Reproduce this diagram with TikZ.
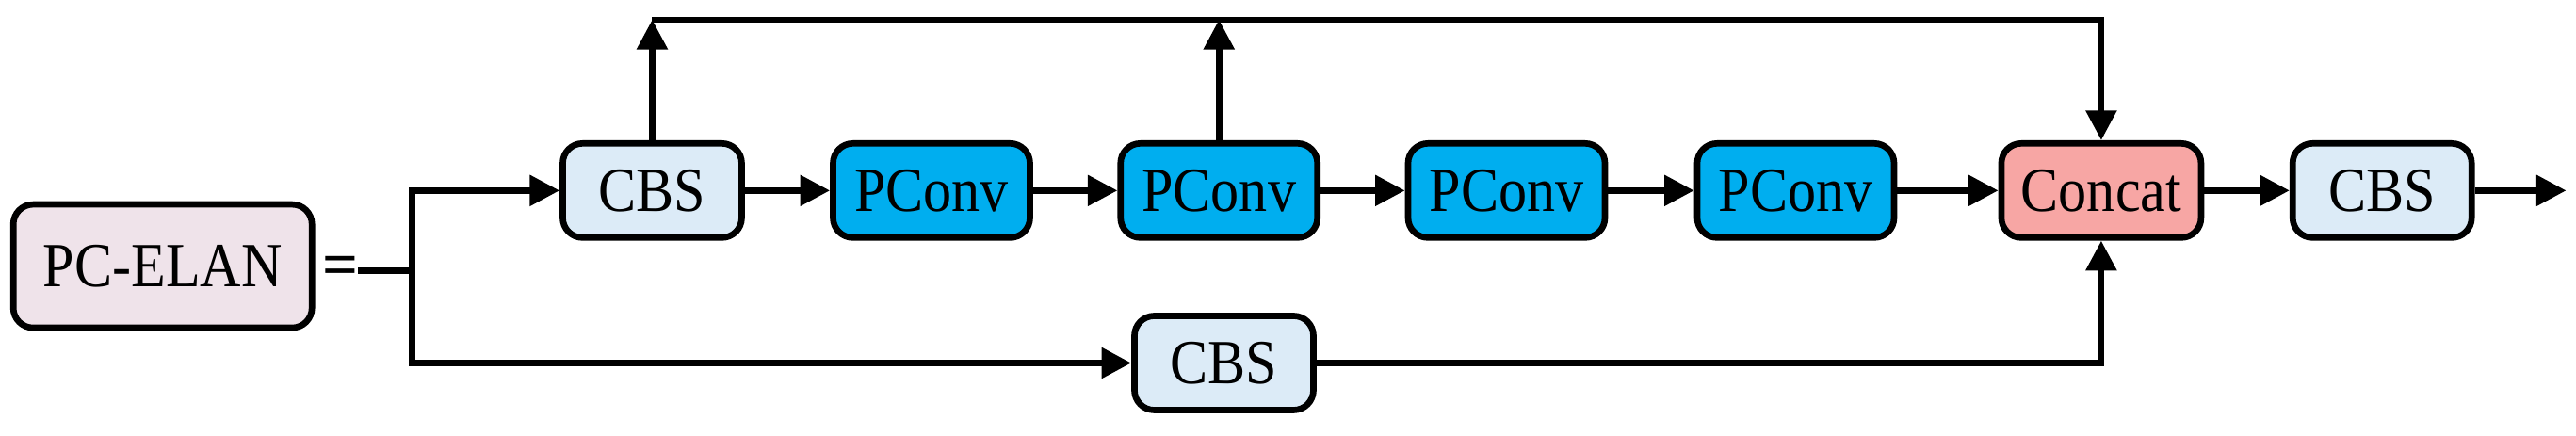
\documentclass[tikz,border=0pt]{standalone}
\usepackage{fontspec}
\setmainfont{Liberation Serif}
\usetikzlibrary{arrows.meta}
\begin{document}
\begin{tikzpicture}[x=0.01744cm,y=-0.01744cm,
  blk/.style={draw=black,line width=1.9pt,rounded corners=6pt,minimum height=1.0cm,inner sep=0pt,font=\fontsize{19}{20}\selectfont},
  cbs/.style={blk,fill=cbsc,minimum width=1.9cm},
  pc/.style={blk,fill=pcc,minimum width=2.09cm},
  ln/.style={line width=1.9pt},
  ar/.style={ln,-{Triangle[length=9pt,width=9pt]}}]
\definecolor{cbsc}{HTML}{DCEBF7}
\definecolor{pcc}{HTML}{00AEEF}
\definecolor{catc}{HTML}{F7A6A4}
\definecolor{elc}{HTML}{EFE3EA}
\useasboundingbox (0,0) rectangle (1568,265);
\node[blk,fill=elc,minimum width=3.17cm,minimum height=1.31cm] (el) at (99,162) {\scalebox{0.9}[1]{PC-ELAN}};
\node[font=\fontsize{19}{20}\selectfont\bfseries] (eq) at (207,165) {=};
\coordinate (d0) at (218,165);
\coordinate (sp) at (251,165);
\node[cbs] (c1) at (397,116) {\scalebox{0.9}[1]{CBS}};
\node[pc] (p1) at (567,116) {\scalebox{0.9}[1]{PConv}};
\node[pc] (p2) at (742,116) {\scalebox{0.9}[1]{PConv}};
\node[pc] (p3) at (917,116) {\scalebox{0.9}[1]{PConv}};
\node[pc] (p4) at (1093,116) {\scalebox{0.9}[1]{PConv}};
\node[blk,fill=catc,minimum width=2.12cm] (cat) at (1279,116) {\scalebox{0.9}[1]{Concat}};
\node[cbs] (c3) at (1450,116) {\scalebox{0.9}[1]{CBS}};
\node[cbs] (c2) at (745,221) {\scalebox{0.9}[1]{CBS}};
\coordinate (out) at (1562,116);
\coordinate (t1) at (397,12);
\coordinate (t2) at (742,12);
\coordinate (t3) at (1279,12);
\draw[ln] (d0) -- (sp);
\draw[ar] (sp) |- (c1.west);
\draw[ar] (sp) |- (c2.west);
\draw[ar] (c1) -- (p1);
\draw[ar] (p1) -- (p2);
\draw[ar] (p2) -- (p3);
\draw[ar] (p3) -- (p4);
\draw[ar] (p4) -- (cat);
\draw[ar] (cat) -- (c3);
\draw[ar] (c3) -- (out);
\draw[ar] (c1.north) -- (t1);
\draw[ar] (p2.north) -- (t2);
\draw[ar] (t1) -- (t3) -- (cat.north);
\draw[ar] (c2.east) -| (cat.south);
\end{tikzpicture}
\end{document}
